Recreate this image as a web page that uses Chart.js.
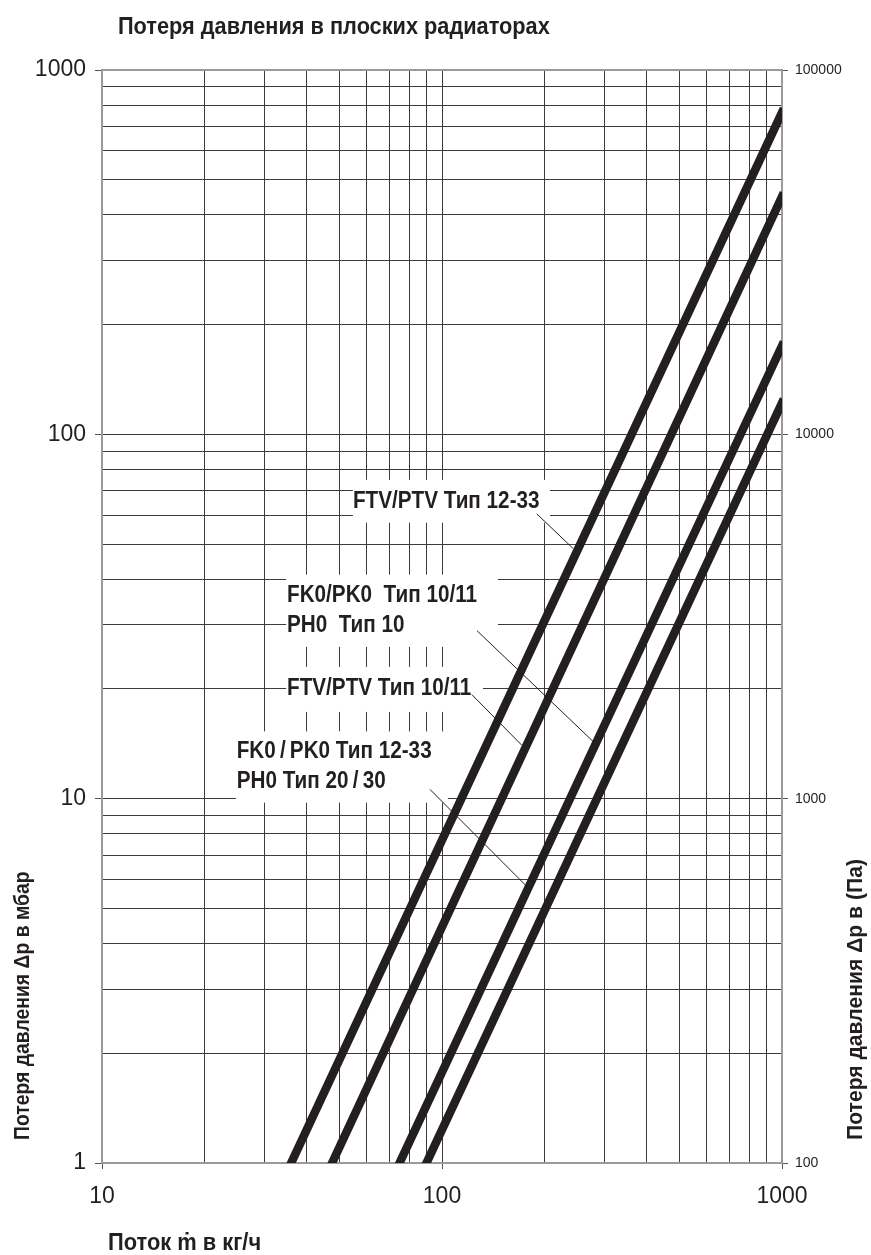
<!DOCTYPE html>
<html>
<head>
<meta charset="utf-8">
<script src="https://cdn.jsdelivr.net/npm/chart.js@4.4.1/dist/chart.umd.min.js"></script>
<style>
  html, body { margin: 0; padding: 0; background: #fff; }
  #chart { display: block; }
</style>
</head>
<body>
<canvas id="chart" width="871" height="1255"></canvas>
<script>
// --- data (flow in kg/h, pressure loss in mbar) ---
const flowGrid = [10, 20, 30, 40, 50, 60, 70, 80, 90, 100, 200, 300, 400, 500, 600, 700, 800, 900, 1000];
const flowLabels = [10, 100, 1000];
const dpGrid = [1, 2, 3, 4, 5, 6, 7, 8, 9, 10, 20, 30, 40, 50, 60, 70, 80, 90, 100, 200, 300, 400, 500, 600, 700, 800, 900, 1000];
const dpLabels = [1, 10, 100, 1000];
const paLabels = [100, 1000, 10000, 100000];

const seriesNames = ['FTV/PTV Тип 12-33', 'FTV/PTV Тип 10/11', 'FK0/PK0 Тип 10/11', 'FK0/PK0 Тип 12-33'];
const flowFtv1233 = [36, 1000];
const dpFtv1233 = [1, 765];
const flowFtv1011 = [47.5, 1000];
const dpFtv1011 = [1, 449];
const flowFk1011 = [75, 1000];
const dpFk1011 = [1, 175];
const flowFk1233 = [90, 1000];
const dpFk1233 = [1, 122];

const noteTexts = [
    ['FTV/PTV Тип 12-33'],
    ['FK0/PK0  Тип 10/11', 'PH0  Тип 10'],
    ['FTV/PTV Тип 10/11'],
    ['FK0\u2009/\u2009PK0 Тип 12-33', 'PH0 Тип 20\u2009/\u200930']
];

// where the labels sit (in axis units), white patch behind them and the leader line
const notePlacement = [
    { at: [54.7, 62.9], box: [54.7, 75.0, 207.8, 57.2], leader: [[190, 60.5], [243, 48.6]] },
    { at: [35.0, 34.7], box: [34.8, 41.2, 146.1, 26.1], leader: [[126.8, 28.9], [283.8, 14.1]] },
    { at: [35.0, 19.3], box: [34.8, 23.0, 132, 17.3], leader: [[122.4, 19.3], [171.9, 14.0]] },
    { at: [24.9, 12.9], box: [24.8, 15.3, 104.1, 9.75], leader: [[92.2, 10.6], [179, 5.70]] }
];

const INK = '#231f20';
const FAMILY = '"Liberation Sans", Arial, sans-serif';

function pts(xs, ys) {
    return xs.map((v, i) => ({ x: v, y: ys[i] }));
}

function makeSet(label, xs, ys) {
    return {
        label: label,
        data: pts(xs, ys),
        borderColor: INK,
        borderWidth: 8.5,
        borderCapStyle: 'square',
        pointRadius: 0,
        tension: 0,
        clip: 0
    };
}

// the original uses a condensed bold face, so squeeze Liberation Sans Bold
function condensed(ctx, str, px, py, size, squeeze, rot) {
    ctx.save();
    ctx.font = 'bold ' + size + 'px ' + FAMILY;
    ctx.translate(px, py);
    if (rot) ctx.rotate(rot);
    ctx.scale(squeeze, 1);
    ctx.fillText(str, 0, 0);
    ctx.restore();
}

const overlay = {
    id: 'overlay',
    beforeDatasetsDraw(chart) {
        const { ctx, chartArea: a, scales: { x, y } } = chart;
        ctx.save();
        // plot frame
        ctx.strokeStyle = '#9a9a9a';
        ctx.lineWidth = 2;
        ctx.strokeRect(a.left, a.top, a.width, a.height);

        notePlacement.forEach((n, i) => {
            const x0 = x.getPixelForValue(n.box[0]), x1 = x.getPixelForValue(n.box[2]);
            const y0 = y.getPixelForValue(n.box[1]), y1 = y.getPixelForValue(n.box[3]);
            ctx.fillStyle = '#fff';
            ctx.fillRect(x0, y0, x1 - x0, y1 - y0);

            ctx.strokeStyle = INK;
            ctx.lineWidth = 1;
            ctx.beginPath();
            ctx.moveTo(x.getPixelForValue(n.leader[0][0]), y.getPixelForValue(n.leader[0][1]));
            ctx.lineTo(x.getPixelForValue(n.leader[1][0]), y.getPixelForValue(n.leader[1][1]));
            ctx.stroke();

            ctx.fillStyle = INK;
            ctx.textBaseline = 'alphabetic';
            const tx = x.getPixelForValue(n.at[0]);
            const ty = y.getPixelForValue(n.at[1]);
            noteTexts[i].forEach((line, k) => condensed(ctx, line, tx, ty + k * 30, 23, 0.9));
        });
        ctx.restore();
    },
    afterDraw(chart) {
        const { ctx } = chart;
        ctx.save();
        ctx.fillStyle = INK;
        ctx.textBaseline = 'alphabetic';
        condensed(ctx, 'Потеря давления в плоских радиаторах', 118, 34, 23, 0.945);
        condensed(ctx, 'Поток ṁ в кг/ч', 108, 1250, 23, 0.95);
        condensed(ctx, 'Потеря давления Δp в мбар', 29, 1140, 22, 0.88, -Math.PI / 2);
        condensed(ctx, 'Потеря давления Δp в (Па)', 862, 1140, 22, 0.96, -Math.PI / 2);
        ctx.restore();
    }
};

const tickFont = { family: FAMILY, size: 23 };
const GRID = '#3a3a3a';

new Chart(document.getElementById('chart'), {
    type: 'line',
    data: {
        datasets: [
            makeSet(seriesNames[0], flowFtv1233, dpFtv1233),
            makeSet(seriesNames[1], flowFtv1011, dpFtv1011),
            makeSet(seriesNames[2], flowFk1011, dpFk1011),
            makeSet(seriesNames[3], flowFk1233, dpFk1233)
        ]
    },
    options: {
        responsive: false,
        animation: false,
        devicePixelRatio: 1,
        layout: { padding: { top: 70, left: 0, right: 0, bottom: 0 } },
        plugins: {
            legend: { display: false },
            tooltip: { enabled: false },
            title: { display: false }
        },
        scales: {
            x: {
                type: 'logarithmic',
                position: 'bottom',
                min: 10,
                max: 1000,
                afterBuildTicks: s => { s.ticks = flowGrid.map(v => ({ value: v })); },
                afterFit: s => { s.height = 92; },
                ticks: {
                    autoSkip: false,
                    maxRotation: 0,
                    padding: 14,
                    color: INK,
                    font: tickFont,
                    callback: v => flowLabels.includes(v) ? String(v) : ''
                },
                grid: {
                    color: GRID,
                    lineWidth: 1,
                    tickLength: 6,
                    tickColor: c => (c.tick && flowLabels.includes(c.tick.value)) ? '#555' : 'rgba(0,0,0,0)'
                },
                border: { color: '#9a9a9a', width: 2 }
            },
            y: {
                type: 'logarithmic',
                position: 'left',
                min: 1,
                max: 1000,
                afterBuildTicks: s => { s.ticks = dpGrid.map(v => ({ value: v })); },
                afterFit: s => { s.width = 102; },
                ticks: {
                    autoSkip: false,
                    padding: 9,
                    color: INK,
                    font: tickFont,
                    callback: v => dpLabels.includes(v) ? String(v) : ''
                },
                grid: {
                    color: GRID,
                    lineWidth: 1,
                    tickLength: 7,
                    tickColor: c => (c.tick && dpLabels.includes(c.tick.value)) ? '#555' : 'rgba(0,0,0,0)'
                },
                border: { color: '#9a9a9a', width: 2 }
            },
            y2: {
                type: 'logarithmic',
                position: 'right',
                min: 100,
                max: 100000,
                afterBuildTicks: s => { s.ticks = paLabels.map(v => ({ value: v })); },
                afterFit: s => { s.width = 89; },
                ticks: {
                    autoSkip: false,
                    padding: 7,
                    color: INK,
                    font: { family: FAMILY, size: 14 },
                    callback: v => String(v)
                },
                grid: { drawOnChartArea: false, tickLength: 6, tickColor: '#555' },
                border: { color: '#9a9a9a', width: 2 }
            }
        }
    },
    plugins: [overlay]
});
</script>
</body>
</html>
